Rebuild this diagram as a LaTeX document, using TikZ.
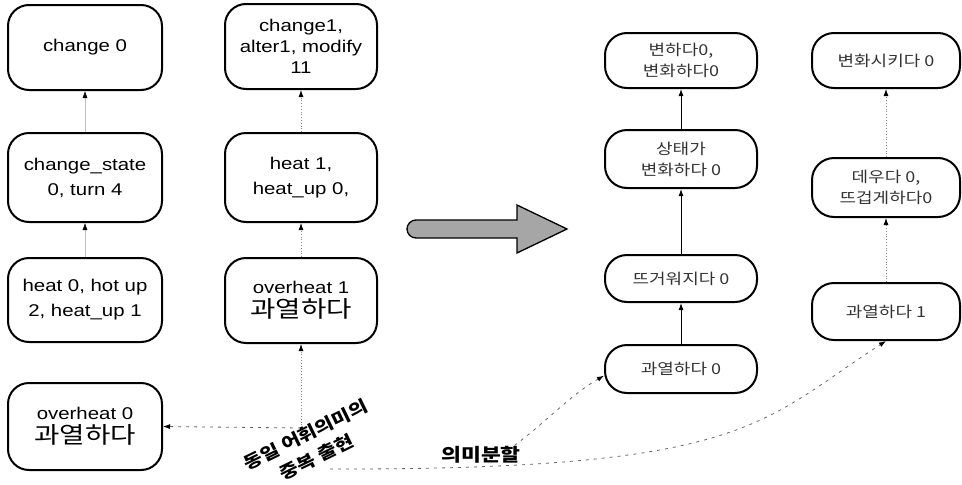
\documentclass[tikz,border=0pt]{standalone}
\usepackage{fontspec}
\setmainfont{Liberation Sans}[FakeStretch=1.2]
\newfontfamily\kr{Noto Sans CJK KR}[FakeStretch=1.2]
\usetikzlibrary{arrows.meta}
\begin{document}
\begin{tikzpicture}[x=1pt,y=-1pt,
  lbox/.style={draw, line width=2pt, rounded corners=21pt, minimum width=154pt,
    minimum height=85pt, align=center, font=\fontsize{17}{22}\selectfont, inner sep=0pt},
  rbox/.style={draw, line width=2pt, rounded corners=22pt, minimum width=152pt,
    align=center, font=\kr\fontsize{15}{21}\selectfont, inner sep=0pt, text=black!80},
  tip/.style={-{Latex[length=7pt,width=5pt,color=black]}},
  faint/.style={tip, draw=black!25, line width=0.5pt},
  dot/.style={tip, draw=black!45, dotted, line width=0.8pt},
  sol/.style={tip, draw=black, line width=0.9pt},
  dsh/.style={tip, draw=black!60, dash pattern=on 3pt off 5pt, line width=0.8pt},
  lab/.style={font=\kr\bfseries\fontsize{17}{25}\selectfont, align=center}]
\useasboundingbox (0,0) rectangle (962,485);

% left column
\node[lbox] (c0) at (85,47.5) {change 0};
\node[lbox, minimum height=89pt, font=\fontsize{17}{25}\selectfont] (cs) at (85,177.5) {change\_state\\0, turn 4};
\node[lbox, minimum height=84pt, font=\fontsize{17}{25}\selectfont] (h0) at (85,300) {heat 0, hot up\\2, heat\_up 1};
\node[lbox, minimum height=87pt] (o0) at (85,426.5) {overheat 0\\[2pt]{\kr\fontsize{23}{28}\selectfont 과열하다}};

% second column
\node[lbox, minimum width=152pt, font=\fontsize{17}{21}\selectfont] (c1) at (301,46.5) {change1,\\alter1, modify\\11};
\node[lbox, minimum width=152pt, minimum height=89pt, font=\fontsize{17}{25}\selectfont] (h1) at (301,177.5) {heat 1,\\heat\_up 0,};
\node[lbox, minimum width=152pt] (o1) at (301,300.5) {overheat 1\\[2pt]{\kr\fontsize{23}{28}\selectfont 과열하다}};

\draw[faint] (cs.north) -- (c0.south);
\draw[faint] (h0.north) -- (cs.south);
\draw[dot] (h1.north) -- (c1.south);
\draw[dot] (o1.north) -- (h1.south);

% third column
\node[rbox, minimum height=55pt] (b1) at (681,60.5) {변하다0,\\변화하다0};
\node[rbox, minimum height=58pt] (b2) at (681,159) {상태가\\변화하다 0};
\node[rbox, minimum height=47pt] (b3) at (681,278.5) {뜨거워지다 0};
\node[rbox, minimum height=48pt] (b4) at (681,369) {과열하다 0};

% fourth column
\node[rbox, minimum width=148pt, minimum height=55pt] (d1) at (886,60.5) {변화시키다 0};
\node[rbox, minimum width=148pt, minimum height=59pt] (d2) at (886,187.5) {데우다 0,\\뜨겁게하다0};
\node[rbox, minimum width=148pt, minimum height=57pt] (d3) at (886,311.5) {과열하다 1};

\draw[sol] (b2.north) -- (b1.south);
\draw[sol] (b3.north) -- (b2.south);
\draw[sol] (b4.north) -- (b3.south);
\draw[dot] (d2.north) -- (d1.south);
\draw[dot] (d3.north) -- (d2.south);

% big arrow
\draw[line width=1.3pt, fill=gray!70] (517,220) -- (517,205) -- (567,229) -- (517,253) -- (517,238)
  [rounded corners=9pt] -- (407,238) -- (407,220) [sharp corners] -- cycle;

% duplicate-sense links
\coordinate (J) at (301,428);
\draw[dot] (J) -- (o1.south);
\draw[dsh] (J) -- (o0.east);
\node[lab, rotate=26] (t1) at (311,446) {동일 어휘의미의\\중복 출현};

% sense split
\coordinate (S) at (330,469);
\coordinate (B) at (508,450);
\draw[dsh] (S) .. controls (750,470) and (760,422) .. (d3.south);
\draw[dsh] (B) .. controls (540,428) and (570,395) .. (b4.185);
\node[font=\kr\bfseries\fontsize{18}{22}\selectfont] (t2) at (481,455) {의미분할};
\end{tikzpicture}
\end{document}
